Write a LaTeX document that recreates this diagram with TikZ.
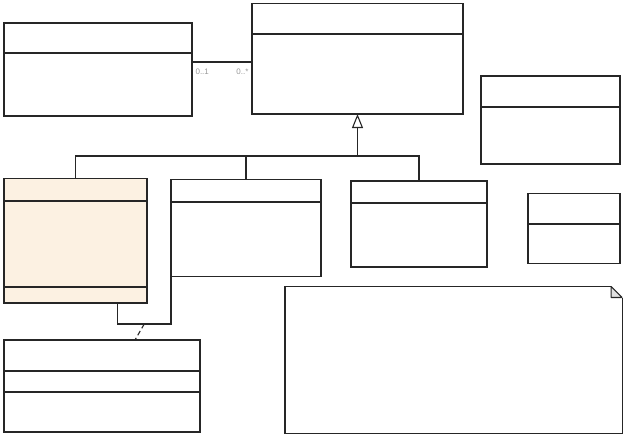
\documentclass[tikz,border=0pt]{standalone}
\usepackage{fontspec}
\newfontfamily\multfont{Liberation Sans}
\usetikzlibrary{arrows.meta,calc}
\definecolor{selfill}{RGB}{252,241,226}
\definecolor{foldfill}{RGB}{224,224,224}
\begin{document}
\begin{tikzpicture}
  [x=1pt,y=-1pt,line width=1.1pt,draw=black!85,
   cls/.style={draw=black!85,anchor=north west,inner sep=0pt,outer sep=0pt},
   mult/.style={font=\multfont\fontsize{8}{9}\selectfont,text=black!40,inner sep=1pt},
   gen/.style={-{Triangle[open,length=14pt,width=11pt,line width=1.1pt]}}]
  \useasboundingbox (0,0) rectangle (624,437);
  % classes
  \node[cls,minimum width=188pt,minimum height=93pt] (own) at (4,23) {};
  \node[cls,minimum width=211pt,minimum height=110.5pt] (sup) at (252,3.5) {};
  \node[cls,minimum width=139pt,minimum height=88pt] (side) at (481,76) {};
  \node[cls,fill=selfill,minimum width=143pt,minimum height=124.5pt] (sel) at (4,178.5) {};
  \node[cls,minimum width=150pt,minimum height=97pt] (mid) at (171,179.5) {};
  \node[cls,minimum width=136pt,minimum height=86pt] (midr) at (351,181) {};
  \node[cls,minimum width=92pt,minimum height=70pt] (small) at (528,193.5) {};
  \node[cls,minimum width=196pt,minimum height=92pt] (bot) at (4,340) {};
  \node[anchor=north west,inner sep=0pt,minimum width=336pt,minimum height=145.5pt] (note) at (285,286.5) {};
  % compartments
  \draw ([yshift=-30pt]own.north west) -- ([yshift=-30pt]own.north east);
  \draw ([yshift=-30.5pt]sup.north west) -- ([yshift=-30.5pt]sup.north east);
  \draw ([yshift=-31pt]side.north west) -- ([yshift=-31pt]side.north east);
  \draw ([yshift=-22.5pt]sel.north west) -- ([yshift=-22.5pt]sel.north east);
  \draw ([yshift=-108.5pt]sel.north west) -- ([yshift=-108.5pt]sel.north east);
  \draw ([yshift=-22.5pt]mid.north west) -- ([yshift=-22.5pt]mid.north east);
  \draw ([yshift=-22pt]midr.north west) -- ([yshift=-22pt]midr.north east);
  \draw ([yshift=-30.5pt]small.north west) -- ([yshift=-30.5pt]small.north east);
  \draw ([yshift=-31pt]bot.north west) -- ([yshift=-31pt]bot.north east);
  \draw ([yshift=-52pt]bot.north west) -- ([yshift=-52pt]bot.north east);
  % note
  \draw ([yshift=-11pt]note.north east) -- (note.south east) -- (note.south west)
    -- (note.north west) -- ([xshift=-11pt]note.north east);
  \draw[fill=foldfill,line join=bevel] ([xshift=-11pt]note.north east)
    -- ([xshift=-11pt,yshift=-11pt]note.north east) -- ([yshift=-11pt]note.north east) -- cycle;
  % association
  \draw ([yshift=7.5pt]own.east) coordinate (a1) -- (a1 -| sup.west) coordinate (a2);
  \node[mult,anchor=north west,xshift=2pt,yshift=-5pt] (m1) at (a1) {0..1};
  \node[mult,anchor=north east,xshift=-2pt,yshift=-5pt] (m2) at (a2) {0..*};
  % generalization
  \coordinate (gj) at ($(sup.south)+(0,42)$);
  \draw[gen] (gj) -- (sup.south);
  \draw (sel.north) |- (gj) -| (midr.north);
  \draw (mid.north) -- (mid.north |- gj);
  % association class
  \draw ([xshift=42pt]sel.south) -- ++(0,21) coordinate (c1) -| (mid.south west);
  \coordinate (ac) at ($(c1)!0.5!(c1 -| mid.south west)$);
  \draw[dash pattern=on 5pt off 3pt] (ac) -- ([xshift=33pt]bot.north);
\end{tikzpicture}
\end{document}
